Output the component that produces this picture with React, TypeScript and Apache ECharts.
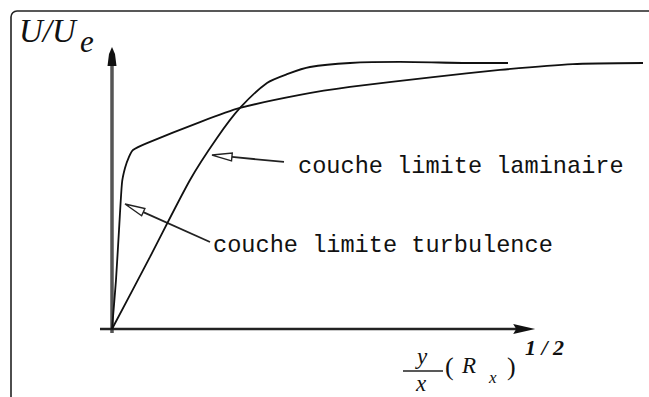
import React, { useEffect, useRef } from "react";
import * as echarts from "echarts";

// Velocity profiles U/Ue against the similarity variable (y/x)·Rx^1/2
const LAMINAR_X = [0, 7.16, 14.69, 19.77, 24.1, 29.19, 33.1, 37.29, 44.82, 54.24, 68.74, 74.58];
const LAMINAR_Y = [0, 0.271, 0.56, 0.718, 0.831, 0.925, 0.959, 0.985, 1.0, 1.004, 1.0, 1.0];

const TURBULENT_X = [0, 0.75, 1.32, 1.88, 2.45, 3.2, 3.95, 6.59, 16.57, 24.1, 35.4, 44.82, 60.45, 73.07, 86.82, 100];
const TURBULENT_Y = [0, 0.184, 0.372, 0.549, 0.605, 0.647, 0.673, 0.699, 0.778, 0.831, 0.88, 0.91, 0.947, 0.974, 0.996, 1.0];

// Axis extents in data units
const X_AXIS_SPAN = [-2.26, 79.7];
const Y_AXIS_SPAN = [-0.015, 1.06];

// Pointer arrows: [tail, tip] in data units
const LAMINAR_POINTER = [[32.39, 0.628], [18.83, 0.654]];
const TURBULENT_POINTER = [[18.46, 0.327], [2.45, 0.47]];

const LAMINAR_LABEL = "couche limite laminaire";
const TURBULENT_LABEL = "couche limite turbulence";

const zip = (xs: number[], ys: number[]) => xs.map((x, i) => [x, ys[i]]);

export default function App() {
  const ref = useRef<HTMLDivElement>(null);

  useEffect(() => {
    if (!ref.current) return;
    const chart = echarts.init(ref.current, null, { renderer: "svg" });

    chart.setOption({
      animation: false,
      backgroundColor: "#ffffff",
      grid: {
        left: 96.07,
        right: 6,
        top: 44.4,
        bottom: 54.7,
        containLabel: false,
        outerBoundsMode: "none",
      },
      xAxis: { type: "value", min: -3, max: 100, show: false, splitLine: { show: false } },
      yAxis: { type: "value", min: -0.05, max: 1.07, show: false, splitLine: { show: false } },
      series: [
        {
          name: "laminaire",
          type: "line",
          data: zip(LAMINAR_X, LAMINAR_Y),
          showSymbol: false,
          smooth: 0.25,
          clip: false,
          lineStyle: { color: "#111", width: 1.8 },
        },
        {
          name: "turbulence",
          type: "line",
          data: zip(TURBULENT_X, TURBULENT_Y),
          showSymbol: false,
          smooth: 0.2,
          clip: false,
          lineStyle: { color: "#111", width: 1.8 },
        },
      ],
    });

    const px = (x: number, y: number) =>
      chart.convertToPixel({ gridIndex: 0 }, [x, y]) as number[];

    const hollowHead = (tail: number[], tip: number[], len: number, half: number) => {
      const dx = tail[0] - tip[0];
      const dy = tail[1] - tip[1];
      const d = Math.hypot(dx, dy);
      const ux = dx / d;
      const uy = dy / d;
      const bx = tip[0] + ux * len;
      const by = tip[1] + uy * len;
      return {
        base: [bx, by],
        points: [tip, [bx - uy * half, by + ux * half], [bx + uy * half, by - ux * half]],
      };
    };

    const pointer = (p: number[][]) => {
      const tail = px(p[0][0], p[0][1]);
      const tip = px(p[1][0], p[1][1]);
      const head = hollowHead(tail, tip, 20, 4);
      return [
        {
          type: "line",
          shape: { x1: tail[0], y1: tail[1], x2: head.base[0], y2: head.base[1] },
          style: { stroke: "#222", lineWidth: 1.8 },
        },
        {
          type: "polygon",
          shape: { points: head.points },
          style: { fill: "#fff", stroke: "#222", lineWidth: 1.4 },
        },
      ];
    };

    const xa0 = px(X_AXIS_SPAN[0], 0);
    const xa1 = px(X_AXIS_SPAN[1], 0);
    const ya0 = px(0, Y_AXIS_SPAN[0]);
    const ya1 = px(0, Y_AXIS_SPAN[1]);

    const labelFont = "23.6px 'Liberation Mono', monospace";
    const serif = "'Liberation Serif', serif";
    const lamTail = px(LAMINAR_POINTER[0][0], LAMINAR_POINTER[0][1]);
    const turTail = px(TURBULENT_POINTER[0][0], TURBULENT_POINTER[0][1]);

    chart.setOption({
      graphic: [
        // frame, open to the right and bottom
        {
          type: "rect",
          shape: { x: 11, y: 11, width: 700, height: 420, r: [6, 0, 0, 0] },
          style: { fill: "none", stroke: "#222", lineWidth: 1.6 },
        },
        // y axis
        {
          type: "line",
          shape: { x1: ya0[0], y1: ya0[1], x2: ya1[0], y2: ya1[1] + 10 },
          style: { stroke: "#555", lineWidth: 3.5 },
        },
        {
          type: "polygon",
          shape: {
            points: [
              [ya1[0], ya1[1]],
              [ya1[0] + 3, ya1[1] + 7],
              [ya1[0] + 4.5, ya1[1] + 19],
              [ya1[0] - 4.5, ya1[1] + 19],
              [ya1[0] - 3, ya1[1] + 7],
            ],
          },
          style: { fill: "#111" },
        },
        // x axis
        {
          type: "line",
          shape: { x1: xa0[0], y1: xa0[1], x2: xa1[0] - 12, y2: xa1[1] },
          style: { stroke: "#222", lineWidth: 2.6 },
        },
        {
          type: "polygon",
          shape: {
            points: [
              [xa1[0], xa1[1]],
              [xa1[0] - 22, xa1[1] - 5],
              [xa1[0] - 19, xa1[1]],
              [xa1[0] - 22, xa1[1] + 5],
            ],
          },
          style: { fill: "#111" },
        },
        ...pointer(LAMINAR_POINTER),
        ...pointer(TURBULENT_POINTER),
        {
          type: "text",
          x: lamTail[0] + 14,
          y: lamTail[1] + 5,
          style: { text: LAMINAR_LABEL, font: labelFont, fill: "#111", align: "left", verticalAlign: "middle" },
        },
        {
          type: "text",
          x: turTail[0] + 3,
          y: turTail[1] + 3,
          style: { text: TURBULENT_LABEL, font: labelFont, fill: "#111", align: "left", verticalAlign: "middle" },
        },
        // y-axis title U/Ue
        {
          type: "text",
          x: 19,
          y: 31,
          style: { text: "U/U", font: `italic 33px ${serif}`, fill: "#111", align: "left", verticalAlign: "middle" },
        },
        {
          type: "text",
          x: 80,
          y: 41,
          style: { text: "e", font: `italic 31px ${serif}`, fill: "#111", align: "left", verticalAlign: "middle" },
        },
        // x-axis title (y/x)(Rx)^1/2
        {
          type: "text",
          x: 422,
          y: 356,
          style: { text: "y", font: `italic 23px ${serif}`, fill: "#111", align: "center", verticalAlign: "middle" },
        },
        {
          type: "line",
          shape: { x1: 403, y1: 371, x2: 443, y2: 371 },
          style: { stroke: "#222", lineWidth: 1.3 },
        },
        {
          type: "text",
          x: 421,
          y: 383,
          style: { text: "x", font: `italic 23px ${serif}`, fill: "#111", align: "center", verticalAlign: "middle" },
        },
        {
          type: "text",
          x: 445,
          y: 366,
          style: { text: "(", font: `26px ${serif}`, fill: "#111", align: "left", verticalAlign: "middle" },
        },
        {
          type: "text",
          x: 462,
          y: 365,
          style: { text: "R", font: `italic 23px ${serif}`, fill: "#111", align: "left", verticalAlign: "middle" },
        },
        {
          type: "text",
          x: 489,
          y: 377,
          style: { text: "x", font: `italic 17px ${serif}`, fill: "#111", align: "left", verticalAlign: "middle" },
        },
        {
          type: "text",
          x: 507,
          y: 366,
          style: { text: ")", font: `26px ${serif}`, fill: "#111", align: "left", verticalAlign: "middle" },
        },
        {
          type: "text",
          x: 525,
          y: 347,
          style: { text: "1 / 2", font: `italic bold 22px ${serif}`, fill: "#111", align: "left", verticalAlign: "middle" },
        },
      ],
    });

    return () => chart.dispose();
  }, []);

  return (
    <div
      ref={ref}
      style={{ position: "fixed", left: 0, top: 0, width: 649, height: 397, background: "#fff" }}
    />
  );
}
